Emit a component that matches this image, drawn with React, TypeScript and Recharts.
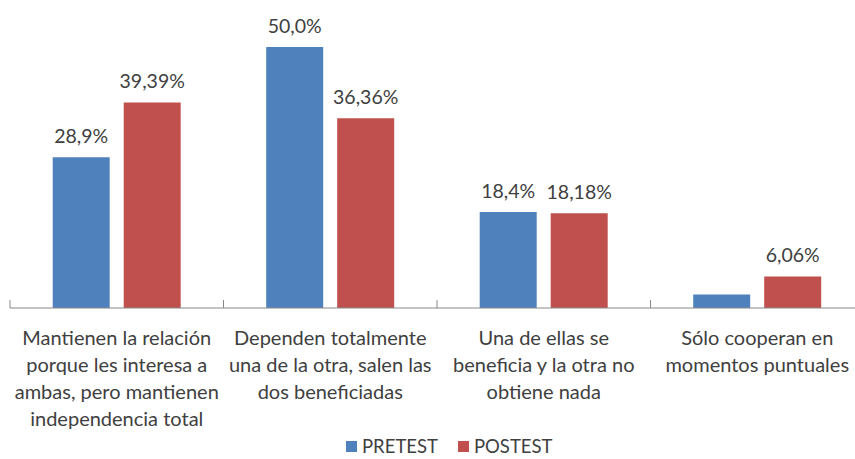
import React from "react";
import { BarChart, Bar, XAxis, YAxis, LabelList, Legend } from "recharts";

const categoryLines: string[][] = [
  ["Mantienen la relación", "porque les interesa a", "ambas, pero mantienen", "independencia total"],
  ["Dependen totalmente", "una de la otra, salen las", "dos beneficiadas"],
  ["Una de ellas se", "beneficia y la otra no", "obtiene nada"],
  ["Sólo cooperan en", "momentos puntuales"],
];
const pretest = [28.9, 50.0, 18.4, 2.6];
const postest = [39.39, 36.36, 18.18, 6.06];
const pretestLabels = ["28,9%", "50,0%", "18,4%", ""];
const postestLabels = ["39,39%", "36,36%", "18,18%", "6,06%"];
const seriesNames = ["PRETEST", "POSTEST"];

const BLUE = "#4F81BD";
const RED = "#C0504D";
const TEXT = "#404040";
const FONT = "Lato, 'Noto Sans', sans-serif";

const data = categoryLines.map((lines, i) => ({
  key: String(i),
  pre: pretest[i],
  post: postest[i],
  preLabel: pretestLabels[i],
  postLabel: postestLabels[i],
}));

const CHART_W = 866;
const CHART_H = 470;
const MARGIN = { top: 21, right: 2, left: 10, bottom: 0 };
const PLOT_W = CHART_W - MARGIN.left - MARGIN.right;
const STEP = PLOT_W / categoryLines.length;

const CatTick = (props: any) => {
  const { x, y, payload, index } = props;
  const lines = categoryLines[Number(payload.value)] || [];
  const left = x - STEP / 2;
  const right = x + STEP / 2;
  return (
    <g>
      <line x1={left} x2={left} y1={y - 8} y2={y} stroke="#888" strokeWidth={1} />
      {index === categoryLines.length - 1 && (
        <line x1={right} x2={right} y1={y - 8} y2={y} stroke="#888" strokeWidth={1} />
      )}
      <text x={x} y={y + 37} textAnchor="middle" fill={TEXT} fontSize={20} fontFamily={FONT}>
        {lines.map((l, i) => (
          <tspan key={i} x={x} dy={i === 0 ? 0 : 27}>
            {l}
          </tspan>
        ))}
      </text>
    </g>
  );
};

const LegendContent = () => (
  <div style={{ display: "flex", alignItems: "center", fontFamily: FONT, fontSize: 18.5, color: TEXT }}>
    {seriesNames.map((n, i) => (
      <div key={n} style={{ display: "flex", alignItems: "center", marginRight: 20 }}>
        <span style={{ display: "inline-block", width: 11, height: 11, background: i === 0 ? BLUE : RED, marginRight: 5 }} />
        <span>{n}</span>
      </div>
    ))}
  </div>
);

export default function App() {
  return (
    <div style={{ position: "absolute", left: 0, top: 0, width: 855, height: 459, overflow: "hidden", background: "#fff" }}>
      <BarChart width={CHART_W} height={CHART_H} data={data} margin={MARGIN} barCategoryGap="20%" barGap={14}>
        <XAxis
          dataKey="key"
          axisLine={{ stroke: "#888" }}
          tickLine={false}
          tickSize={0}
          tickMargin={0}
          height={CHART_H - MARGIN.top - 287}
          tick={<CatTick />}
          interval={0}
        />
        <YAxis hide domain={[0, 55]} />
        <Legend
          layout="horizontal"
          verticalAlign="middle"
          align="center"
          content={<LegendContent />}
          wrapperStyle={{ top: 435, left: 346, width: 400, height: 24 }}
        />
        <Bar dataKey="pre" name={seriesNames[0]} fill={BLUE} isAnimationActive={false}>
          <LabelList dataKey="preLabel" position="top" offset={14} fill={TEXT} fontSize={19.5} fontFamily={FONT} />
        </Bar>
        <Bar dataKey="post" name={seriesNames[1]} fill={RED} isAnimationActive={false}>
          <LabelList dataKey="postLabel" position="top" offset={14} fill={TEXT} fontSize={19.5} fontFamily={FONT} />
        </Bar>
      </BarChart>
    </div>
  );
}
